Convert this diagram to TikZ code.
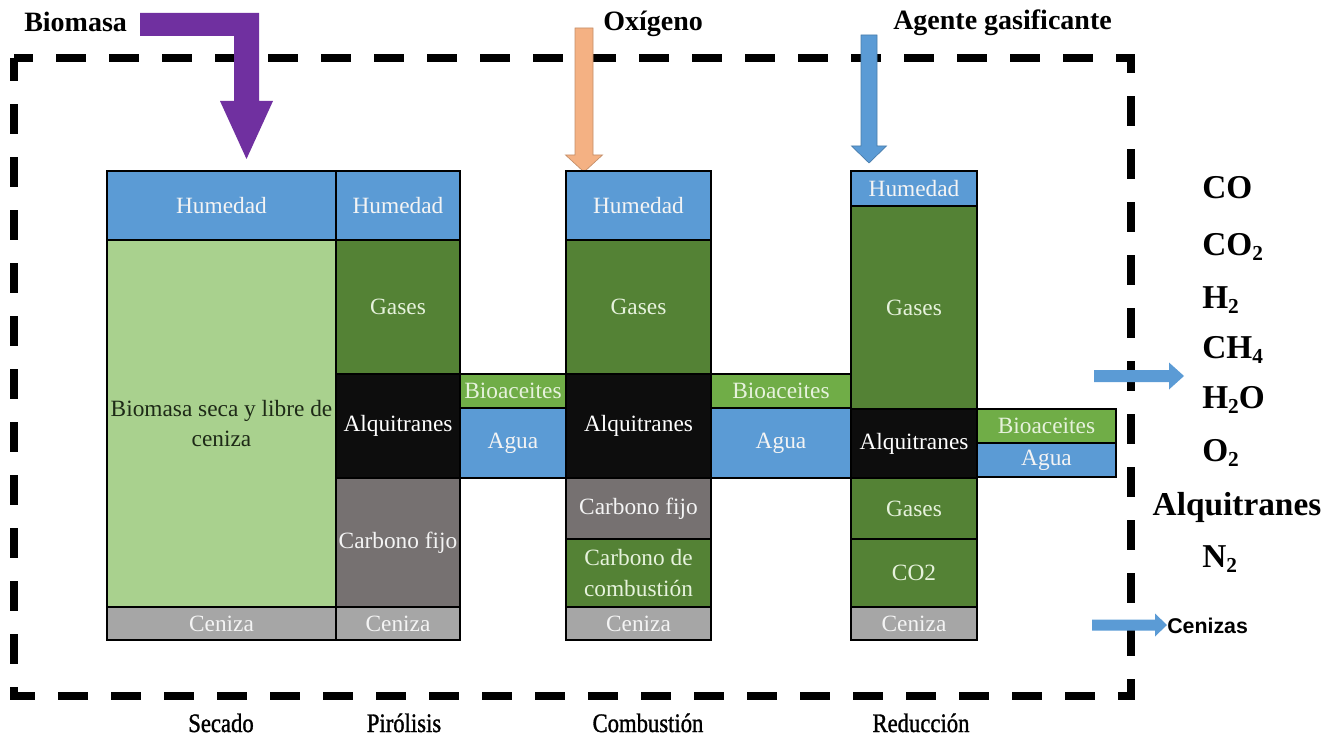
\documentclass[tikz,border=0pt]{standalone}
\usepackage{fontspec}
\setmainfont{Liberation Serif}
\newfontfamily\stagefont{Liberation Serif}[FakeStretch=0.85, FakeBold=1.2]
\newfontfamily\ashfont{Liberation Sans}
\usetikzlibrary{calc}

\definecolor{wetblue}{HTML}{5B9BD5}
\definecolor{gasgreen}{HTML}{548235}
\definecolor{drygreen}{HTML}{A9D18E}
\definecolor{oilgreen}{HTML}{70AD47}
\definecolor{tarblack}{HTML}{0D0D0D}
\definecolor{chargray}{HTML}{767171}
\definecolor{ashgray}{HTML}{A6A6A6}
\definecolor{feedpurple}{HTML}{7030A0}
\definecolor{oxorange}{HTML}{F4B183}
\definecolor{paletext}{HTML}{F4F4F4}
\definecolor{palegreen}{HTML}{E6F2DC}
\definecolor{darktext}{HTML}{1E2A17}

% one coloured cell of a stage column: name, x1, y1, x2, y2, fill, text colour, text
\newcommand\cellbox[8]{%
  \node[cell, fill=#6, text=#7,
        minimum width={(#4-#2)*0.75pt}, minimum height={(#5-#3)*0.75pt}]
        (#1) at ({(#2+#4)/2},{(#3+#5)/2}) {#8};}

% downward block arrow: colour, tip x, tip y, top y, shaft half width, head half width, head base y
\newcommand\feedarrow[7]{%
  \filldraw[fill=#1, draw=#1!80!black, line width=0.5pt]
    (#2-#5,#4) -- (#2+#5,#4) -- (#2+#5,#7) -- (#2+#6,#7) -- (#2,#3)
    -- (#2-#6,#7) -- (#2-#5,#7) -- cycle;}

% rightward block arrow: colour, start x, centre y, shaft half height, head base x, head half height, tip x
\newcommand\outarrow[7]{%
  \fill[#1] (#2,#3-#4) -- (#5,#3-#4) -- (#5,#3-#6) -- (#7,#3)
    -- (#5,#3+#6) -- (#5,#3+#4) -- (#2,#3+#4) -- cycle;}

% small lowered index for the chemical formulas
\newcommand\chemidx[1]{\raisebox{-0.35ex}{\fontsize{16}{16}\selectfont #1}}

\tikzset{
  cell/.style={draw=black, line width=2pt, inner sep=1pt, align=center,
               font=\fontsize{17.5}{23}\selectfont},
  toplabel/.style={inner sep=0pt, anchor=base west, font=\fontsize{21}{25}\selectfont\bfseries},
  gaslabel/.style={inner sep=0pt, anchor=base west, font=\fontsize{25}{30}\selectfont\bfseries},
  stagelabel/.style={inner sep=0pt, anchor=base, font=\fontsize{20}{24}\selectfont\stagefont},
  frame/.style={line width=6pt, dash pattern=on 22.5pt off 17.25pt, dash phase=8pt}
}

\begin{document}
\begin{tikzpicture}[x=0.75pt, y=-0.75pt]
\useasboundingbox (0,0) rectangle (1328,738);

% gasifier boundary
\draw[frame] (14,58) -- (1131,58) -- (1131,696) -- (14,696) -- cycle;

% feed streams
\fill[feedpurple] (140,13) -- (259,13) -- (259,101) -- (273,101) -- (246.5,159)
  -- (220,101) -- (234,101) -- (234,36) -- (140,36) -- cycle;
\feedarrow{oxorange}{584}{172}{28}{9}{18.5}{155}
\feedarrow{wetblue}{869}{163}{35}{8}{17.5}{146}

\node[toplabel] (biomasa) at (24,32) {Biomasa};
\node[toplabel] (oxigeno) at (603,31) {Oxígeno};
\node[toplabel] (agente) at (893,30) {Agente gasificante};

% connecting streams between stages
\cellbox{oilA}{460}{374}{566}{408}{oilgreen}{palegreen}{Bioaceites}
\cellbox{watA}{460}{408}{566}{478}{wetblue}{paletext}{Agua}
\cellbox{oilB}{711}{374}{851}{408}{oilgreen}{palegreen}{Bioaceites}
\cellbox{watB}{711}{408}{851}{478}{wetblue}{paletext}{Agua}
\cellbox{oilC}{977}{409}{1116}{443}{oilgreen}{palegreen}{Bioaceites}
\cellbox{watC}{977}{443}{1116}{477}{wetblue}{paletext}{Agua}

% drying
\cellbox{hum1}{107}{171}{336}{240}{wetblue}{paletext}{Humedad}
\cellbox{dry1}{107}{240}{336}{607}{drygreen}{darktext}{Biomasa seca y libre de\\ceniza}
\cellbox{ash1}{107}{607}{336}{640}{ashgray}{paletext}{Ceniza}

% pyrolysis
\cellbox{hum2}{336}{171}{460}{240}{wetblue}{paletext}{Humedad}
\cellbox{gas2}{336}{240}{460}{374}{gasgreen}{palegreen}{Gases}
\cellbox{tar2}{336}{374}{460}{478}{tarblack}{white}{Alquitranes}
\cellbox{char2}{336}{478}{460}{607}{chargray}{paletext}{Carbono fijo}
\cellbox{ash2}{336}{607}{460}{640}{ashgray}{paletext}{Ceniza}

% combustion
\cellbox{hum3}{566}{171}{711}{240}{wetblue}{paletext}{Humedad}
\cellbox{gas3}{566}{240}{711}{374}{gasgreen}{palegreen}{Gases}
\cellbox{tar3}{566}{374}{711}{478}{tarblack}{white}{Alquitranes}
\cellbox{char3}{566}{478}{711}{539}{chargray}{paletext}{Carbono fijo}
\cellbox{comb3}{566}{539}{711}{607}{gasgreen}{palegreen}{Carbono de\\combustión}
\cellbox{ash3}{566}{607}{711}{640}{ashgray}{paletext}{Ceniza}

% reduction
\cellbox{hum4}{851}{171}{977}{206}{wetblue}{paletext}{Humedad}
\cellbox{gas4}{851}{206}{977}{409}{gasgreen}{palegreen}{Gases}
\cellbox{tar4}{851}{409}{977}{478}{tarblack}{white}{Alquitranes}
\cellbox{gas4b}{851}{478}{977}{539}{gasgreen}{palegreen}{Gases}
\cellbox{co4}{851}{539}{977}{607}{gasgreen}{palegreen}{CO2}
\cellbox{ash4}{851}{607}{977}{640}{ashgray}{paletext}{Ceniza}

% products
\outarrow{wetblue}{1094}{376}{6}{1169}{13.5}{1184}
\outarrow{wetblue}{1092}{625}{5.5}{1155}{11.5}{1167}
\node[inner sep=0pt, anchor=west, font=\fontsize{16}{19}\selectfont\ashfont\bfseries] (cenizas) at (1167,626) {Cenizas};

\node[gaslabel] (co) at (1202,199) {CO};
\node[gaslabel] (co2) at (1202,255) {CO\chemidx{2}};
\node[gaslabel] (h2) at (1202,308) {H\chemidx{2}};
\node[gaslabel] (ch4) at (1202,358) {CH\chemidx{4}};
\node[gaslabel] (h2o) at (1202,408) {H\chemidx{2}O};
\node[gaslabel] (o2) at (1202,461) {O\chemidx{2}};
\node[gaslabel, anchor=base] (tars) at (1237,515) {Alquitranes};
\node[gaslabel] (n2) at (1202,567) {N\chemidx{2}};

% stage names
\node[stagelabel] (secado) at (221,732) {Secado};
\node[stagelabel] (pirolisis) at (404,732) {Pirólisis};
\node[stagelabel] (combustion) at (648,732) {Combustión};
\node[stagelabel] (reduccion) at (921,732) {Reducción};
\end{tikzpicture}
\end{document}
